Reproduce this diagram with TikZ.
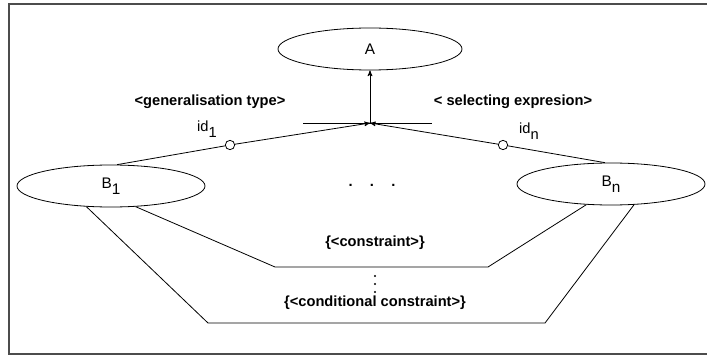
\documentclass[tikz,border=0pt]{standalone}
\usepackage{fontspec}
\setmainfont{Liberation Sans}
\usetikzlibrary{arrows,shapes.geometric,positioning}
\newcommand{\lowidx}[1]{\raisebox{-0.7ex}{#1}}

\begin{document}
\begin{tikzpicture}[x=0.75pt,y=-0.75pt,>=stealth',line width=0.6pt]

      \tikzstyle{entity}=[ellipse,draw,inner sep=0pt,minimum width=141pt,minimum height=31.5pt,font=\fontsize{11.5}{13}\selectfont]
      \tikzstyle{hole}=[circle,draw,fill=white,inner sep=0pt,minimum size=7pt]
      \tikzstyle{note}=[draw=none,fill=none,align=center,inner sep=1pt,font=\bfseries\fontsize{11}{12}\selectfont]
      \tikzstyle{idtext}=[draw=none,fill=none,inner sep=1pt,font=\fontsize{11}{12}\selectfont]

      \useasboundingbox (0,0) rectangle (707,356);
      \draw[gray!60!black,line width=1.4pt] (707,4) -- (9,4) -- (9,354) -- (707,354);

      \node[entity,minimum width=138pt] (A) at (370,49) {A};
      \node[entity] (B1) at (111,186) {B\lowidx{1}};
      \node[entity] (Bn) at (611,184) {B\lowidx{n}};

      \coordinate (J) at (370,123);
      \coordinate (Jl) at (303,123);
      \coordinate (Jr) at (432,123);

      \node[hole] (C1) at (230,145) {};
      \node[hole] (Cn) at (503,145) {};

      \node[idtext] (I1) at (207,129) {id\lowidx{1}};
      \node[idtext] (In) at (529,131) {id\lowidx{n}};

      \node[note] (G) at (210,102) {\textless generalisation type\textgreater};
      \node[note] (S) at (513,102) {\textless\ selecting expresion\textgreater};

      \node[note] (D) at (372,185) {.\hspace{13pt}.\hspace{13pt}.};

      \node[note] (K) at (375,243) {\{\textless constraint\textgreater\}};
      \node[note] (L) at (375,303) {\{\textless conditional constraint\textgreater\}};

      % vertical dots between the two constraints
      \foreach \y in {276,284,292}
        \fill (375,\y) circle (1.1);

      % constraint lines
      \coordinate (P1) at (275,267);
      \coordinate (P2) at (488,267);
      \coordinate (Q1) at (208,323);
      \coordinate (Q2) at (545,323);

      \path [->] (J) edge node[left] {} (A.south);
      \path (Jl) edge (Jr);
      \path (B1.74) edge (C1);
      \path [->] (C1) edge (J);
      \path (Bn.106) edge (Cn);
      \path [->] (Cn) edge (J);

      \draw (B1.-40) -- (P1) -- (P2) -- (Bn.-140);
      \draw (B1.-140) -- (Q1) -- (Q2) -- (Bn.-42);
    \end{tikzpicture}
\end{document}
